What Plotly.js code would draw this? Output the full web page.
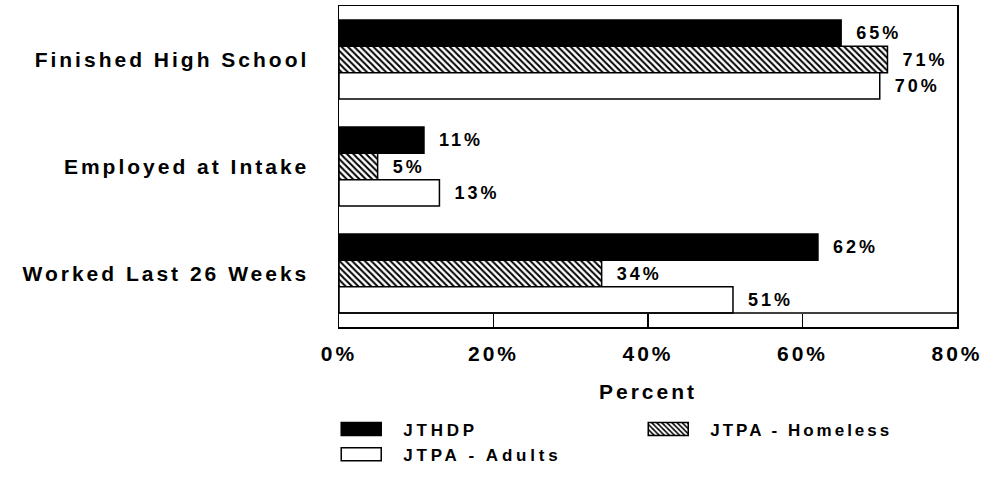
<!DOCTYPE html>
<html>
<head>
<meta charset="utf-8">
<script src="https://cdn.plot.ly/plotly-3.0.1.min.js"></script>
<style>
  html, body { margin: 0; padding: 0; background: #fff; }
  #chart { width: 988px; height: 487px; }
  text { letter-spacing: 3px; }
  .legendtext { letter-spacing: 3.8px !important; }
</style>
</head>
<body>
<div id="chart"></div>
<script>
const categories = ['Finished High School', 'Employed at Intake', 'Worked Last 26 Weeks'];
const jthdp = [65, 11, 62];
const jtpaHomeless = [71, 5, 34];
const jtpaAdults = [70, 13, 51];
const seriesNames = ['JTHDP', 'JTPA - Homeless', 'JTPA - Adults'];
const xTickVals = [0, 20, 40, 60, 80];
const xTickText = ['0%', '20%', '40%', '60%', '80%'];

const FONT = 'Liberation Sans, Arial, Helvetica, sans-serif';
const barLine = { color: '#000', width: 1.5 };
const labelFont = { family: FONT, size: 18, color: '#000', weight: 'bold' };
const legendFont = { family: FONT, size: 17, color: '#000', weight: 'bold' };

function barTrace(name, values, marker, legendId) {
  return {
    type: 'bar',
    orientation: 'h',
    name: name,
    legend: legendId,
    y: categories,
    x: values,
    marker: Object.assign({ line: barLine }, marker),
    text: values.map(v => '\u2002' + v + '%'),
    textposition: 'outside',
    textfont: labelFont,
    constraintext: 'none',
    cliponaxis: false,
    hoverinfo: 'skip'
  };
}

const traces = [
  barTrace(seriesNames[0], jthdp, { color: '#000' }, 'legend'),
  barTrace(seriesNames[1], jtpaHomeless, {
    color: '#fff',
    pattern: { shape: '\\', fgcolor: '#000', bgcolor: '#fff', size: 4.5, solidity: 0.45 }
  }, 'legend2'),
  barTrace(seriesNames[2], jtpaAdults, { color: '#fff' }, 'legend')
];

const legendBase = {
  orientation: 'v',
  xanchor: 'left',
  yref: 'container', y: 0.155, yanchor: 'top',
  itemwidth: 74,
  font: legendFont,
  traceorder: 'normal',
  bgcolor: 'rgba(0,0,0,0)'
};

const layout = {
  width: 988,
  height: 487,
  margin: { l: 339, r: 31, t: 6, b: 160 },
  paper_bgcolor: '#fff',
  plot_bgcolor: '#fff',
  font: { family: FONT, size: 21, color: '#000', weight: 'bold' },
  barmode: 'group',
  bargap: 0.26,
  bargroupgap: 0,
  showlegend: true,
  legend: Object.assign({}, legendBase, { x: -0.032 }),
  legend2: Object.assign({}, legendBase, { x: 0.4648 }),
  xaxis: {
    range: [0, 80],
    tickvals: xTickVals,
    ticktext: xTickText,
    ticks: 'inside',
    ticklen: 13,
    tickwidth: 1.5,
    tickcolor: '#000',
    showline: true,
    linewidth: 1.5,
    linecolor: '#000',
    mirror: true,
    showgrid: false,
    zeroline: false,
    ticklabelstandoff: 7,
    tickfont: { family: FONT, size: 21, color: '#000', weight: 'bold' },
    title: { text: 'Percent', font: { family: FONT, size: 21, color: '#000', weight: 'bold' }, standoff: 20 },
    fixedrange: true
  },
  yaxis: {
    type: 'category',
    autorange: 'reversed',
    showline: true,
    linewidth: 1.5,
    linecolor: '#000',
    mirror: true,
    ticks: '',
    showgrid: false,
    zeroline: false,
    ticklabelstandoff: 24,
    tickfont: { family: FONT, size: 21, color: '#000', weight: 'bold' },
    fixedrange: true
  },
  shapes: [{
    type: 'line', xref: 'paper', x0: 0, x1: 1,
    yref: 'y', y0: 2.37, y1: 2.37,
    line: { color: '#000', width: 1.5 }
  }]
};

Plotly.newPlot('chart', traces, layout, { displayModeBar: false, staticPlot: true }).then(function () {
  document.querySelectorAll('.legendpoints path').forEach(function (p) {
    p.setAttribute('d', 'M20,6.5H-20V-6.5H20Z');
  });
  document.querySelectorAll('.legend .scrollbox, .legend2 .scrollbox, g.legend, g.legend2').forEach(function (g) {
    g.removeAttribute('clip-path');
  });
  document.querySelectorAll('[class^="legend"] .scrollbox, .scrollbox').forEach(function (g) {
    g.removeAttribute('clip-path');
  });
});
</script>
</body>
</html>
